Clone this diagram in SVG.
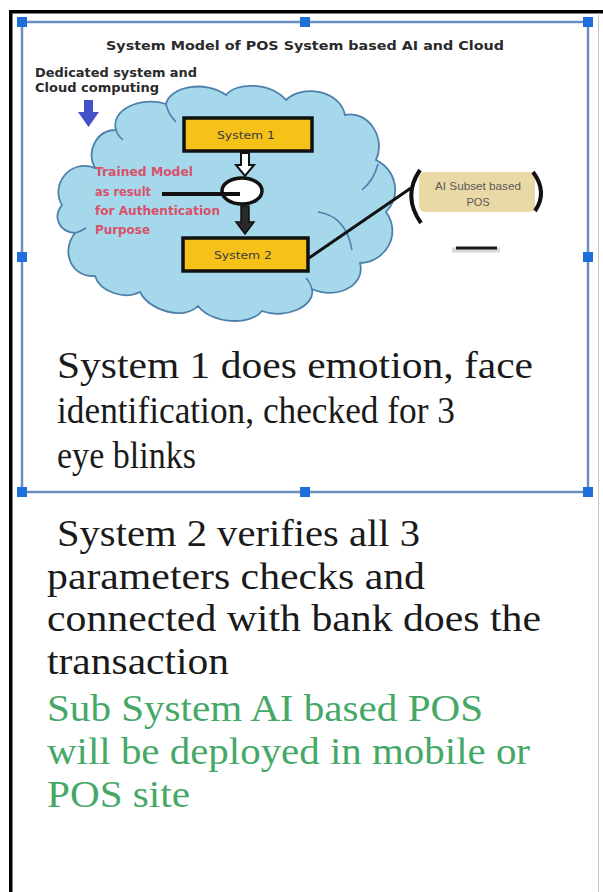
<svg xmlns="http://www.w3.org/2000/svg" width="603" height="892" viewBox="0 0 603 892">
<defs>
<style>
.big{font-family:"Liberation Serif","Times New Roman",serif;font-size:37px;fill:#1a1a1a}
.green{fill:#45a866}
.handle{fill:#1e6fd9}
.sel{fill:none;stroke:#6a8ec0;stroke-width:2.5}
.box{fill:#f6c21a;stroke:#111;stroke-width:3.5}
.boxt{font-family:"DejaVu Sans",sans-serif;font-size:11px;fill:#3a3a3a;text-anchor:middle}
.red{font-family:"DejaVu Sans",sans-serif;font-size:11.5px;font-weight:bold;fill:#d8506a}
.lbl{font-family:"DejaVu Sans",sans-serif;font-weight:bold;fill:#2a2a2a}
</style>
</defs>
<rect width="603" height="892" fill="#ffffff"/>
<!-- frame -->
<rect x="9" y="10" width="594" height="3.5" fill="#000"/>
<rect x="9" y="10" width="3.5" height="882" fill="#000"/>
<line x1="598.5" y1="13" x2="598.5" y2="892" stroke="#c8c8c8" stroke-width="1"/>

<!-- selection box -->
<g id="selection">
<rect class="sel" x="22" y="22" width="566" height="470"/>
<rect class="handle" x="17" y="17" width="10" height="10"/>
<rect class="handle" x="300" y="17" width="10" height="10"/>
<rect class="handle" x="583" y="17" width="10" height="10"/>
<rect class="handle" x="17" y="252" width="10" height="10"/>
<rect class="handle" x="583" y="252" width="10" height="10"/>
<rect class="handle" x="17" y="487" width="10" height="10"/>
<rect class="handle" x="300" y="487" width="10" height="10"/>
<rect class="handle" x="583" y="487" width="10" height="10"/>
</g>

<g id="title">
<text class="lbl" x="305" y="50" font-size="13" text-anchor="middle" textLength="398" lengthAdjust="spacingAndGlyphs">System Model of POS System based AI and Cloud</text>
</g>

<g id="dedicated">
<text class="lbl" x="35" y="77" font-size="11.5" fill="#333" textLength="162" lengthAdjust="spacingAndGlyphs">Dedicated system and</text>
<text class="lbl" x="35" y="92" font-size="11.5" textLength="124" lengthAdjust="spacingAndGlyphs">Cloud computing</text>
<polygon points="84,100 93,100 93,112 99,112 88.5,127 78,112 84,112" fill="#4352c9"/>
</g>

<g id="cloud">
<path d="M 95,168 C 70,158 50,185 62,205 C 52,218 60,232 75,233 C 60,252 72,278 95,276 C 100,292 125,300 140,292 C 150,312 185,320 198,306 C 212,324 250,326 262,311 C 285,320 316,306 312,289 C 336,300 366,286 360,263 C 386,262 402,234 386,212 C 402,195 396,170 376,160 C 386,140 370,110 345,115 C 340,90 302,84 286,100 C 270,82 236,82 226,95 C 206,80 170,86 166,104 C 140,96 110,110 116,130 C 96,130 86,152 95,168 Z" fill="#a6d8ec" stroke="#4f80ac" stroke-width="1.8"/>
<g fill="none" stroke="#4f80ac" stroke-width="1.6">
<path d="M 318,212 Q 346,216 352,250"/>
<path d="M 362,190 Q 374,180 378,164"/>
<path d="M 166,104 Q 168,114 176,122"/>
<path d="M 116,130 Q 118,136 123,140"/>
<path d="M 75,233 Q 80,232 86,228"/>
<path d="M 312,289 Q 310,282 306,278"/>
</g>
</g>

<g id="system1">
<rect class="box" x="184" y="118" width="128" height="33"/>
<text class="boxt" x="246" y="139" textLength="58" lengthAdjust="spacingAndGlyphs">System 1</text>
</g>

<g id="model">
<ellipse cx="242" cy="191" rx="20" ry="13" fill="#fff" stroke="#111" stroke-width="3.5"/>
</g>

<g id="system2">
<rect class="box" x="183" y="238" width="125" height="33"/>
<text class="boxt" x="243" y="259" textLength="58" lengthAdjust="spacingAndGlyphs">System 2</text>
</g>

<g id="trained">
<text class="red" x="95" y="176" textLength="98" lengthAdjust="spacingAndGlyphs">Trained Model</text>
<text class="red" x="95" y="196" textLength="56" lengthAdjust="spacingAndGlyphs">as result</text>
<text class="red" x="95" y="215" textLength="125" lengthAdjust="spacingAndGlyphs">for Authentication</text>
<text class="red" x="95" y="234" textLength="55" lengthAdjust="spacingAndGlyphs">Purpose</text>
</g>

<g id="aipos">
<rect x="419" y="172" width="116" height="40" rx="6" fill="#ead9a6"/>
<path d="M 420,170 Q 402,196 421,223" fill="none" stroke="#111" stroke-width="4"/>
<path d="M 533,172 Q 548,192 535,211" fill="none" stroke="#111" stroke-width="4"/>
<text x="478" y="190" font-family="'Liberation Sans Narrow','Liberation Sans',sans-serif" font-size="11" fill="#5a5a5a" text-anchor="middle" textLength="86" lengthAdjust="spacingAndGlyphs">AI Subset based</text>
<text x="478" y="206" font-family="'Liberation Sans Narrow','Liberation Sans',sans-serif" font-size="11" fill="#5a5a5a" text-anchor="middle">POS</text>
</g>

<g id="dash">
<line x1="452" y1="250" x2="500" y2="250" stroke="#d8d8d8" stroke-width="5"/>
<line x1="456" y1="248" x2="497" y2="248" stroke="#1a1a1a" stroke-width="3"/>
</g>

<g id="connectors">
<polygon points="241,153 249,153 249,165 254,165 245,176 236,165 241,165" fill="#fff" stroke="#111" stroke-width="2"/>
<polygon points="241,206 249,206 249,222 254,222 245,234 236,222 241,222" fill="#2a2a2a" stroke="#111" stroke-width="1.5"/>
<line x1="162" y1="194" x2="240" y2="194" stroke="#111" stroke-width="4"/>
<line x1="309" y1="258" x2="411" y2="188" stroke="#111" stroke-width="3"/>
</g>

<g id="text1">
<text class="big" x="57" y="378" textLength="476" lengthAdjust="spacingAndGlyphs">System 1 does emotion, face</text>
<text class="big" x="57" y="423" textLength="398" lengthAdjust="spacingAndGlyphs">identification, checked for 3</text>
<text class="big" x="57" y="468" textLength="139" lengthAdjust="spacingAndGlyphs">eye blinks</text>
</g>

<g id="text2">
<text class="big" x="57" y="546" textLength="363" lengthAdjust="spacingAndGlyphs">System 2 verifies all 3</text>
<text class="big" x="47" y="589" textLength="378" lengthAdjust="spacingAndGlyphs">parameters checks and</text>
<text class="big" x="47" y="631" textLength="494" lengthAdjust="spacingAndGlyphs">connected with bank does the</text>
<text class="big" x="47" y="674" textLength="182" lengthAdjust="spacingAndGlyphs">transaction</text>
</g>

<g id="text3">
<text class="big green" x="47" y="721" textLength="436" lengthAdjust="spacingAndGlyphs">Sub System AI based POS</text>
<text class="big green" x="47" y="764" textLength="483" lengthAdjust="spacingAndGlyphs">will be deployed in mobile or</text>
<text class="big green" x="47" y="807" textLength="143" lengthAdjust="spacingAndGlyphs">POS site</text>
</g>
</svg>
